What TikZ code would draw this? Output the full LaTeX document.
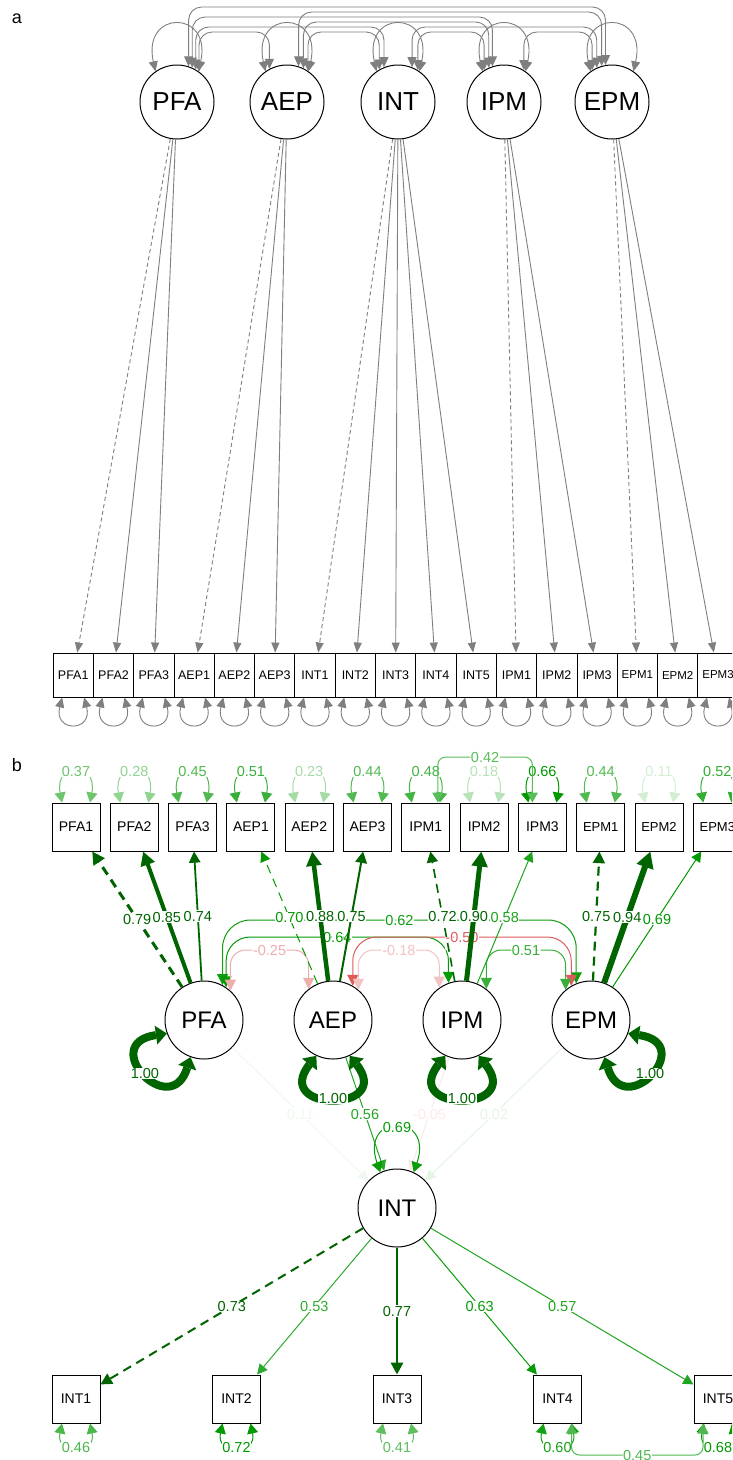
\documentclass[tikz,border=0pt]{standalone}
\usepackage{fontspec}
\setmainfont{Liberation Sans}
\usetikzlibrary{arrows.meta,calc}
\definecolor{grA}{HTML}{7F7F7F}
\definecolor{dg}{HTML}{006400}
\definecolor{mg}{HTML}{009900}
\definecolor{mr}{HTML}{D42A2A}
\tikzset{
  lata/.style={circle,draw,line width=1pt,fill=white,minimum size=74pt,inner sep=0pt,font=\fontsize{26}{28}\selectfont},
  boxa/.style={rectangle,draw,line width=0.9pt,fill=white,minimum width=40.3pt,minimum height=44pt,inner sep=0pt,font=\fontsize{12.5}{13}\selectfont},
  ldA/.style={color=grA,line width=0.9pt,>={Triangle[length=10pt,width=8pt]},->},
  dshA/.style={dash pattern=on 4pt off 3pt},
  varA/.style={color=grA,line width=0.9pt,>={Triangle[length=10pt,width=9pt]},<->},
  covA/.style={varA,rounded corners=13pt},
  latb/.style={circle,draw,line width=1pt,fill=white,minimum size=78pt,inner sep=0pt,font=\fontsize{24}{26}\selectfont},
  boxb/.style={rectangle,draw,line width=1pt,fill=white,minimum size=48pt,inner sep=0pt,font=\fontsize{14}{15}\selectfont},
  lab/.style={fill=white,inner sep=0.6pt,font=\fontsize{14.5}{15}\selectfont},
  gc/.style={color=mg!#1!white},
  rc/.style={color=mr!#1!white},
  dk/.style={color=dg},
  ldb/.style={line width=#1,>={Triangle[length=9pt 1.2,width=9pt 1.3]},->},
  dshb/.style={dash pattern=on 9pt off 6pt},
  varb/.style={line width=1pt,>={Triangle[length=10pt,width=11pt]},<->},
  covb/.style={line width=1pt,>={Triangle[length=11pt,width=11pt]},<->},
  bigvar/.style={color=dg,line width=8pt,>={Triangle[length=11pt,width=19pt,line width=0pt]},<->},
  plab/.style={font=\fontsize{18}{20}\selectfont,inner sep=0pt}
}
\begin{document}
\begin{tikzpicture}[x=1pt,y=-1pt]
\useasboundingbox (0,0) rectangle (732,1460);
\clip (0,0) rectangle (732,1460);
\fill[white] (0,0) rectangle (732,1460);

\node[plab] (la) at (17,19) {a};
\node[plab] (lb) at (17,765) {b};

% ---------------- part a ----------------
\node[lata] (PFAa) at (177,102) {PFA};
\node[lata] (AEPa) at (287,102) {AEP};
\node[lata] (INTa) at (398,102) {INT};
\node[lata] (IPMa) at (504,102) {IPM};
\node[lata] (EPMa) at (612,102) {EPM};

\foreach \n [count=\i from 0] in {PFA1,PFA2,PFA3,AEP1,AEP2,AEP3,INT1,INT2,INT3,INT4,INT5,IPM1,IPM2,IPM3}
  \node[boxa] (\n a) at ({73.2+40.3*\i},675) {\n};
\foreach \n [count=\i from 14] in {EPM1,EPM2,EPM3}
  \node[boxa,font=\fontsize{11.5}{12}\selectfont] (\n a) at ({73.2+40.3*\i},675) {\n};

\foreach \n in {PFA1,PFA2,PFA3,AEP1,AEP2,AEP3,INT1,INT2,INT3,INT4,INT5,IPM1,IPM2,IPM3,EPM1,EPM2,EPM3}
  \draw[varA] ([xshift=-11pt]\n a.south) .. controls +(-9,35) and +(9,35) .. ([xshift=11pt]\n a.south);

\foreach \n in {PFAa,AEPa,INTa,IPMa,EPMa}
  \draw[varA] (\n.125) .. controls +(-14,-62) and +(14,-62) .. (\n.55);

\coordinate (a7) at (0,7);
\coordinate (a12) at (0,12);
\coordinate (a17) at (0,17);
\coordinate (a22) at (0,22);
\coordinate (a27) at (0,27);
\coordinate (a32) at (0,32);
\draw[covA] (PFAa.72) -- (PFAa.72 |- a7) -- (EPMa.100 |- a7) -- (EPMa.100);
\draw[covA] (AEPa.72) -- (AEPa.72 |- a12) -- (EPMa.106 |- a12) -- (EPMa.106);
\draw[covA] (PFAa.66) -- (PFAa.66 |- a17) -- (IPMa.108 |- a17) -- (IPMa.108);
\draw[covA] (AEPa.64) -- (AEPa.64 |- a22) -- (IPMa.114 |- a22) -- (IPMa.114);
\draw[covA] (INTa.68) -- (INTa.68 |- a27) -- (EPMa.114 |- a27) -- (EPMa.114);
\draw[covA] (PFAa.60) -- (PFAa.60 |- a27) -- (INTa.112 |- a27) -- (INTa.112);
\draw[covA] (PFAa.54) -- (PFAa.54 |- a32) -- (AEPa.118 |- a32) -- (AEPa.118);
\draw[covA] (AEPa.56) -- (AEPa.56 |- a32) -- (INTa.120 |- a32) -- (INTa.120);
\draw[covA] (INTa.58) -- (INTa.58 |- a32) -- (IPMa.122 |- a32) -- (IPMa.122);
\draw[covA] (IPMa.58) -- (IPMa.58 |- a32) -- (EPMa.122 |- a32) -- (EPMa.122);

\draw[ldA,dshA] (PFAa) -- (PFA1a);
\draw[ldA] (PFAa) -- (PFA2a);
\draw[ldA] (PFAa) -- (PFA3a);
\draw[ldA,dshA] (AEPa) -- (AEP1a);
\draw[ldA] (AEPa) -- (AEP2a);
\draw[ldA] (AEPa) -- (AEP3a);
\draw[ldA,dshA] (INTa) -- (INT1a);
\draw[ldA] (INTa) -- (INT2a);
\draw[ldA] (INTa) -- (INT3a);
\draw[ldA] (INTa) -- (INT4a);
\draw[ldA] (INTa) -- (INT5a);
\draw[ldA,dshA] (IPMa) -- (IPM1a);
\draw[ldA] (IPMa) -- (IPM2a);
\draw[ldA] (IPMa) -- (IPM3a);
\draw[ldA,dshA] (EPMa) -- (EPM1a);
\draw[ldA] (EPMa) -- (EPM2a);
\draw[ldA] (EPMa) -- (EPM3a);

% ---------------- part b ----------------
\node[latb] (PFAb) at (204,1020) {PFA};
\node[latb] (AEPb) at (333,1020) {AEP};
\node[latb] (IPMb) at (462,1020) {IPM};
\node[latb] (EPMb) at (591,1020) {EPM};
\node[latb] (INTb) at (397,1208) {INT};

\foreach \n [count=\i from 0] in {PFA1,PFA2,PFA3,AEP1,AEP2,AEP3,IPM1,IPM2,IPM3}
  \node[boxb] (\n b) at ({76+58.3*\i},827) {\n};
\foreach \n [count=\i from 9] in {EPM1,EPM2,EPM3}
  \node[boxb,font=\fontsize{13}{14}\selectfont] (\n b) at ({76+58.3*\i},827) {\n};
\foreach \n [count=\i from 0] in {INT1,INT2,INT3,INT4,INT5}
  \node[boxb] (\n b) at ({76+160.5*\i},1399) {\n};

% latent covariances
\coordinate (b920) at (0,920);
\coordinate (b937) at (0,937);
\coordinate (b950) at (0,950);
\draw[covb,gc=95,rounded corners=28pt] (PFAb.62) -- (PFAb.62 |- b920) -- (EPMb.112 |- b920) node[lab,pos=.5]{0.62} -- (EPMb.112);
\draw[covb,gc=98,rounded corners=24pt] (PFAb.56) -- (PFAb.56 |- b937) -- (IPMb.110 |- b937) node[lab,pos=.5]{0.64} -- (IPMb.110);
\draw[covb,rc=77,rounded corners=24pt] (AEPb.60) -- (AEPb.60 |- b937) -- (EPMb.120 |- b937) node[lab,pos=.5]{-0.50} -- (EPMb.120);
\draw[covb,rc=38,rounded corners=15pt] (PFAb.48) -- (PFAb.48 |- b950) -- (AEPb.128 |- b950) node[lab,pos=.5]{-0.25} -- (AEPb.128);
\draw[covb,rc=28,rounded corners=15pt] (AEPb.50) -- (AEPb.50 |- b950) -- (IPMb.125 |- b950) node[lab,pos=.5]{-0.18} -- (IPMb.125);
\draw[covb,gc=78,rounded corners=15pt] (IPMb.52) -- (IPMb.52 |- b950) -- (EPMb.130 |- b950) node[lab,pos=.5]{0.51} -- (EPMb.130);

% loadings top
\draw[dk,ldb=3pt,dshb] (PFAb) -- (PFA1b) node[lab,pos=.5]{0.79};
\draw[dk,ldb=4pt] (PFAb) -- (PFA2b) node[lab,pos=.5]{0.85};
\draw[dk,ldb=1.8pt] (PFAb) -- (PFA3b) node[lab,pos=.5]{0.74};
\draw[gc=100,ldb=1pt,dshb] (AEPb) -- (AEP1b) node[lab,pos=.5]{0.70};
\draw[dk,ldb=4.5pt] (AEPb) -- (AEP2b) node[lab,pos=.5]{0.88};
\draw[dk,ldb=2pt] (AEPb) -- (AEP3b) node[lab,pos=.5]{0.75};
\draw[dk,ldb=1.6pt,dshb] (IPMb) -- (IPM1b) node[lab,pos=.5]{0.72};
\draw[dk,ldb=5pt] (IPMb) -- (IPM2b) node[lab,pos=.5]{0.90};
\draw[gc=89,ldb=1pt] (IPMb) -- (IPM3b) node[lab,pos=.5]{0.58};
\draw[dk,ldb=2.2pt,dshb] (EPMb) -- (EPM1b) node[lab,pos=.5]{0.75};
\draw[dk,ldb=6pt] (EPMb) -- (EPM2b) node[lab,pos=.5]{0.94};
\draw[gc=100,ldb=1pt] (EPMb) -- (EPM3b) node[lab,pos=.5]{0.69};

% residual loops top row
\foreach \n/\p/\v in {PFA1/57/0.37,PFA2/43/0.28,PFA3/69/0.45,AEP1/78/0.51,AEP2/35/0.23,AEP3/68/0.44,IPM1/74/0.48,IPM2/28/0.18,IPM3/100/0.66,EPM1/68/0.44,EPM2/17/0.11,EPM3/80/0.52}
  \draw[varb,gc=\p] ([xshift=-14pt]\n b.north) .. controls +(-8,-42) and +(8,-42) .. ([xshift=14pt]\n b.north) node[lab,pos=.5]{\v};

\coordinate (i1) at ([xshift=12pt]IPM1b.north);
\coordinate (i3) at ([xshift=-10pt]IPM3b.north);
\coordinate (b757) at (0,757);
\draw[varb,gc=65,rounded corners=8pt] (i1) -- (i1 |- b757) -- (i3 |- b757) node[lab,pos=.5]{0.42} -- (i3);

% regressions to INT
\draw[gc=6,ldb=1pt] (PFAb) -- (INTb) node[lab,pos=.5]{0.11};
\draw[gc=86,ldb=1pt] (AEPb) -- (INTb) node[lab,pos=.5]{0.56};
\draw[rc=10,ldb=1pt] (IPMb) -- (INTb) node[lab,pos=.5]{-0.05};
\draw[gc=10,ldb=1pt] (EPMb) -- (INTb) node[lab,pos=.5]{0.02};

\draw[varb,gc=97] (INTb.115) .. controls +(-21,-60) and +(21,-60) .. (INTb.65) node[lab,pos=.5]{0.69};

% INT loadings
\draw[dk,ldb=2pt,dshb] (INTb) -- (INT1b) node[lab,pos=.5]{0.73};
\draw[gc=82,ldb=1pt] (INTb) -- (INT2b) node[lab,pos=.5]{0.53};
\draw[dk,ldb=2.5pt] (INTb) -- (INT3b) node[lab,pos=.5]{0.77};
\draw[gc=97,ldb=1pt] (INTb) -- (INT4b) node[lab,pos=.5]{0.63};
\draw[gc=88,ldb=1pt] (INTb) -- (INT5b) node[lab,pos=.5]{0.57};

% INT indicator residuals
\foreach \n/\p/\v in {INT1/71/0.46,INT2/100/0.72,INT3/63/0.41,INT4/92/0.60,INT5/100/0.68}
  \draw[varb,gc=\p] ([xshift=-14pt]\n b.south) .. controls +(-7,32) and +(7,32) .. ([xshift=14pt]\n b.south) node[lab,pos=.5]{\v};

\coordinate (i4) at ([xshift=14pt]INT4b.south);
\coordinate (i5) at ([xshift=-15pt]INT5b.south);
\coordinate (b1455) at (0,1455);
\draw[varb,gc=69,rounded corners=8pt] (i4) -- (i4 |- b1455) -- (i5 |- b1455) node[lab,pos=.5]{0.45} -- (i5);

% latent variances
\draw[bigvar] (PFAb.200) .. controls +(-70,10) and +(-20,65) .. (PFAb.250) node[lab,pos=.5]{1.00};
\draw[bigvar] (AEPb.245) .. controls +(-45,57) and +(45,57) .. (AEPb.295) node[lab,pos=.5]{1.00};
\draw[bigvar] (IPMb.245) .. controls +(-45,57) and +(45,57) .. (IPMb.295) node[lab,pos=.5]{1.00};
\draw[bigvar] (EPMb.290) .. controls +(20,65) and +(70,10) .. (EPMb.340) node[lab,pos=.5]{1.00};
\end{tikzpicture}
\end{document}
